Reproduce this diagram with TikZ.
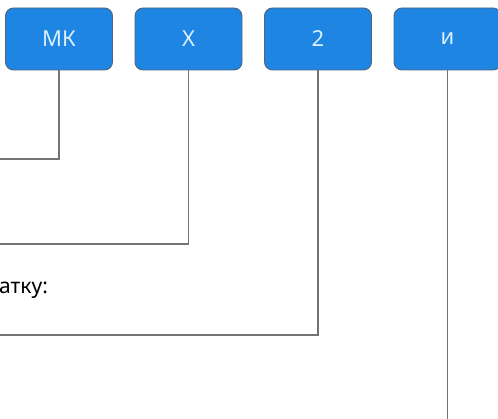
\documentclass[tikz,border=0pt]{standalone}
\usepackage{fontspec}
\setmainfont{Noto Sans}
\usepackage{xcolor}
\usetikzlibrary{positioning}
\definecolor{boxblue}{RGB}{30,134,226}
\definecolor{boxedge}{RGB}{80,100,125}
\definecolor{boxtext}{RGB}{220,240,255}
\definecolor{wire}{RGB}{115,115,115}

\begin{document}
\begin{tikzpicture}[x=1pt, y=-1pt, node distance=129.5pt]
    \tikzstyle{block} = [rectangle, draw=boxedge, line width=0.9pt, fill=boxblue,
        text=boxtext, font=\fontsize{22}{26}\selectfont,
        minimum width=107pt, minimum height=62pt, rounded corners=8pt]
    \tikzstyle{line} = [draw=wire, line width=1.2pt]

    \useasboundingbox (0,0) rectangle (498,419);

    \node [block] at (59,39) (mk) {МК};
    \node [block, right of=mk] (x) {Х};
    \node [block, right of=x] (two) {2};
    \node [block, right of=two] (i) {и};

    \coordinate (mkend) at (0,159);
    \coordinate (xend) at (0,244);
    \coordinate (twoend) at (0,335);
    \coordinate (iend) at (i.south |- 0,420);

    \path [line] (mk.south) |- (mkend);
    \path [line] (x.south) |- (xend);
    \path [line] (two.south) |- (twoend);
    \path [line] (i.south) -- (iend);

    \node [anchor=base west, inner sep=0pt, font=\fontsize{21}{25}\selectfont] at (-1,294) (note) {атку:};
\end{tikzpicture}
\end{document}
